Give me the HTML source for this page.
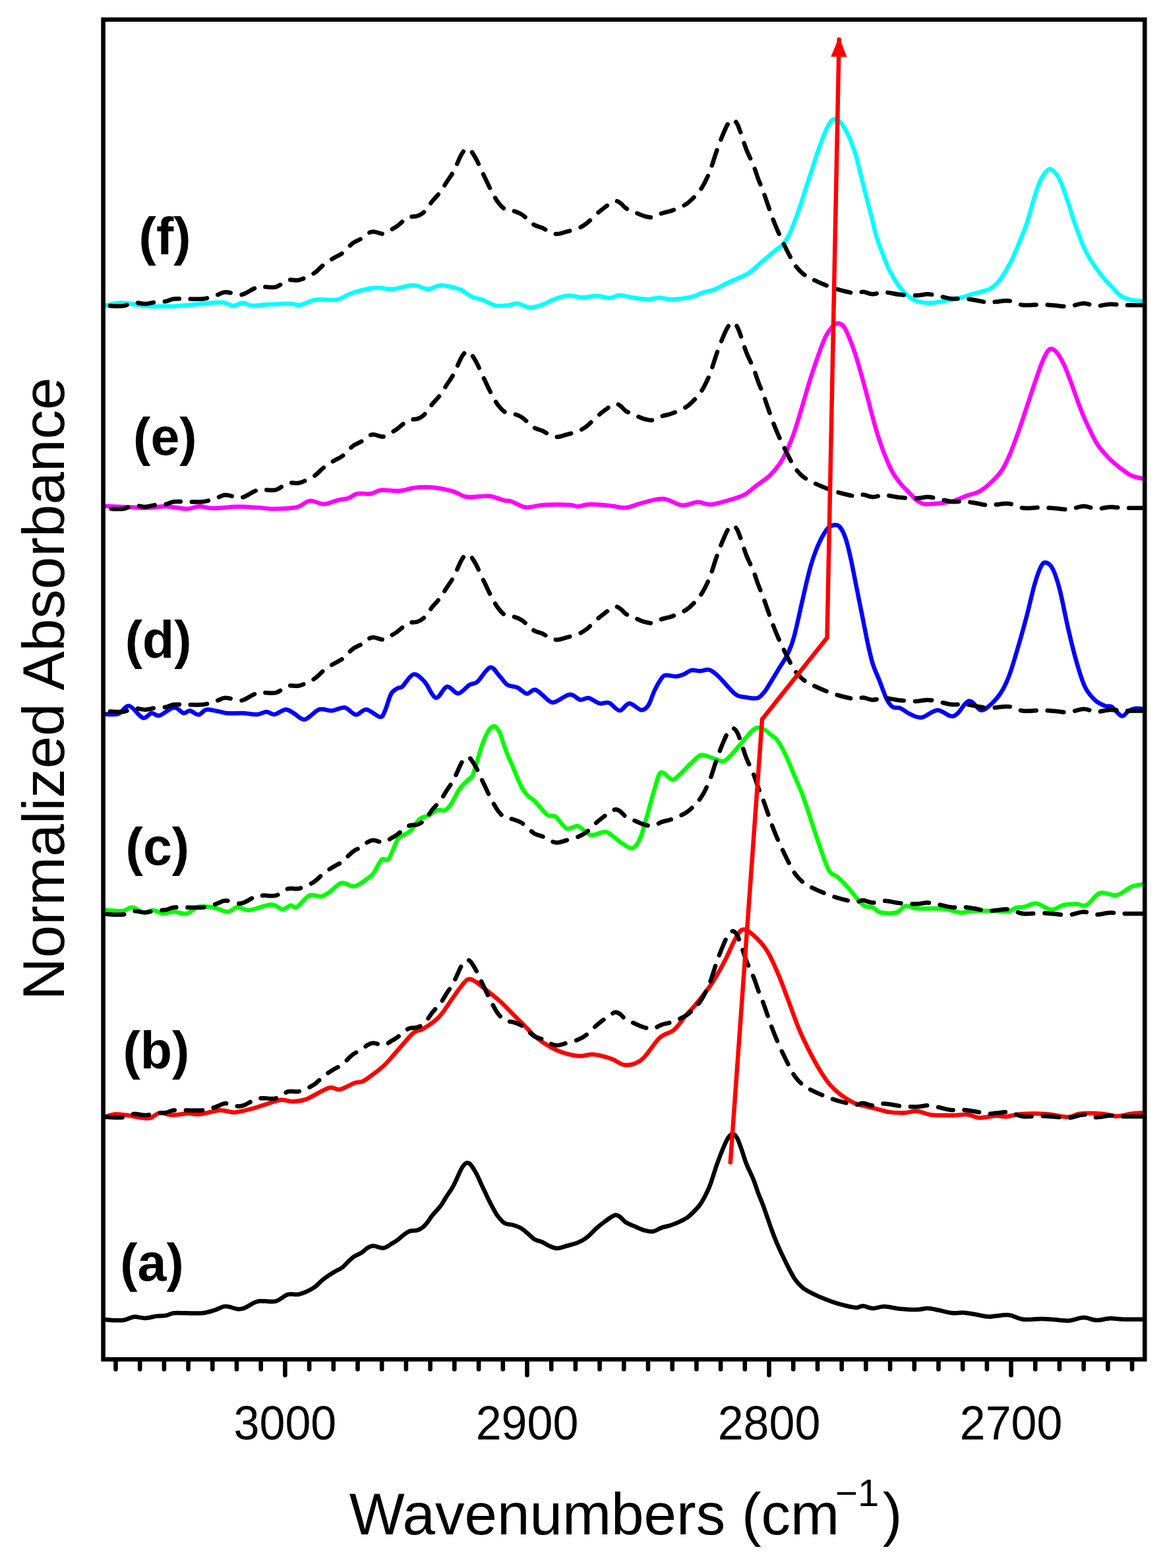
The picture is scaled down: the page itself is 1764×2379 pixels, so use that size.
<!DOCTYPE html>
<html><head><meta charset="utf-8"><title>Normalized Absorbance vs Wavenumbers</title>
<style>html,body{margin:0;padding:0;background:#fff;}svg{display:block;}text{font-family:"Liberation Sans",Arial,sans-serif;fill:#000;}</style>
</head><body>
<svg xmlns="http://www.w3.org/2000/svg" width="1764" height="2379" viewBox="0 0 1764 2379">
<defs><path id="cad" d="M157 2002C159.9 2002.2 168.9 2003.1 174.2 2003.2C179.5 2003.3 183.8 2003.6 188.7 2002.7C193.5 2001.8 198.1 1998.4 203.3 1997.9C208.6 1997.4 214.5 2000.1 220.2 1999.9C225.8 1999.7 231.9 1997.6 237.2 1996.9C242.4 1996.2 247.3 1996.7 251.7 1995.9C256.1 1995.1 258.6 1992.9 263.8 1992.3C269.1 1991.7 275.9 1992.3 283.2 1992.3C290.5 1992.3 300.3 1993 307.4 1992.3C314.4 1991.5 320.2 1989.4 325.5 1987.8C330.8 1986.2 335.3 1983.3 338.9 1982.4C342.5 1981.5 343.7 1982 347.3 1982.6C350.9 1983.2 356.8 1985.8 360.6 1986.2C364.4 1986.6 365.7 1986.5 370.3 1984.7C374.9 1982.9 383.4 1977.1 388.4 1975.3C393.4 1973.5 395.4 1974.3 400.5 1974.1C405.6 1973.9 412.6 1975.8 418.7 1974.1C424.8 1972.4 431 1965.7 436.9 1963.9C442.8 1962.2 447.4 1965.3 453.8 1963.6C460.2 1961.9 469.6 1957.6 475.6 1953.9C481.7 1950.2 485.3 1945 490.1 1941.2C494.9 1937.4 499.8 1934.2 504.6 1931.2C509.5 1928.2 515.2 1926 519.2 1923C523.2 1920 525.9 1916.1 528.9 1913.3C531.9 1910.5 534.1 1908.3 537.3 1906.2C540.5 1904.1 544.9 1902.9 548.2 1900.8C551.5 1898.7 554.2 1895.2 557.2 1893.5C560.2 1891.8 562.2 1890.3 566.3 1890.3C570.4 1890.3 577.2 1894 581.8 1893.5C586.3 1893 590.1 1889.2 593.6 1887.2C597.1 1885.2 599.6 1883.9 602.6 1881.7C605.6 1879.5 608.7 1876.3 611.7 1874C614.7 1871.7 617.3 1869.3 620.8 1868.1C624.3 1866.9 629.1 1867.8 632.6 1866.7C636.1 1865.6 639 1863.9 641.7 1861.7C644.4 1859.5 646.7 1856.5 649 1853.6C651.3 1850.7 653 1847.4 655.3 1844.5C657.6 1841.6 660.2 1839 662.6 1836.3C665 1833.5 667.2 1831.3 669.5 1828C671.8 1824.7 673.8 1820.8 676.5 1816.5C679.2 1812.2 683.3 1806.7 686 1802.1C688.7 1797.5 690.6 1793.2 692.7 1788.7C694.8 1784.2 696.9 1778.9 698.7 1775.4C700.5 1771.9 702 1769.4 703.6 1767.6C705.2 1765.8 706.8 1764.5 708.4 1764.3C710 1764.1 711.7 1764.8 713.3 1766.3C714.9 1767.8 716.3 1770.1 718.1 1773C719.9 1775.9 722.2 1779.9 724.2 1783.9C726.2 1787.9 728.2 1792.9 730.2 1797.2C732.2 1801.5 734.3 1805.7 736.3 1809.9C738.3 1814.1 740.2 1818.5 742.3 1822.6C744.3 1826.7 746.3 1830.5 748.6 1834.5C750.9 1838.5 753 1842.7 755.9 1846.3C758.8 1849.9 762.1 1854 765.7 1856C769.4 1858 773.8 1857.3 777.8 1858.5C781.8 1859.7 786.2 1861.1 790 1863.3C793.8 1865.5 797.4 1869 800.8 1871.8C804.2 1874.6 806.9 1878.1 810.5 1880.2C814.1 1882.3 819 1882.9 822.6 1884.5C826.2 1886.1 828.7 1888.3 832.3 1889.9C835.9 1891.5 839.9 1893.8 844.4 1893.9C848.9 1894 853.5 1892 859 1890.5C864.5 1889 871.9 1887.3 877.1 1885.1C882.3 1882.9 885.8 1880.8 890.4 1877.2C895 1873.6 900.5 1867.2 905 1863.3C909.5 1859.4 913.7 1856.2 917.1 1853.6C920.5 1851 922.7 1849.3 925.5 1847.6C928.3 1845.9 931.4 1843.7 934 1843.6C936.6 1843.5 938.8 1845.2 941.3 1847C943.8 1848.8 945.8 1852.3 949.1 1854.5C952.4 1856.7 956.4 1857.9 960.9 1859.9C965.4 1861.9 971.5 1864.9 976.3 1866.3C981.1 1867.7 985.3 1869.1 989.9 1868.5C994.5 1867.9 999 1864.2 1003.6 1862.6C1008.2 1861 1012.7 1860.5 1017.2 1859C1021.7 1857.5 1026.6 1855.6 1030.8 1853.6C1035 1851.6 1039 1849.8 1042.6 1847.2C1046.2 1844.6 1049.6 1841.1 1052.6 1838.1C1055.6 1835.1 1058.4 1832.2 1060.8 1829C1063.2 1825.8 1065.1 1822.6 1067.1 1819.1C1069.1 1815.6 1070.8 1812.2 1072.6 1808.2C1074.4 1804.2 1075.5 1802.5 1078 1795.4C1080.5 1788.3 1084.6 1774.5 1087.8 1765.5C1091 1756.5 1094.4 1747.8 1097.2 1741.3C1100 1734.8 1102.1 1729.7 1104.5 1726.2C1106.9 1722.7 1109.3 1720.5 1111.5 1720.5C1113.7 1720.5 1115.7 1722.7 1117.8 1726.2C1119.9 1729.7 1121.5 1734.8 1123.9 1741.3C1126.3 1747.8 1128.8 1757.4 1132 1765.5C1135.2 1773.6 1140 1782.7 1142.9 1790C1145.9 1797.3 1147.3 1803 1149.7 1809.4C1152.1 1815.9 1155 1822.2 1157.4 1828.7C1159.8 1835.2 1161.9 1841.6 1164.2 1848.1C1166.5 1854.6 1168.6 1861 1171 1867.5C1173.4 1874 1176 1880.5 1178.7 1886.9C1181.5 1893.4 1184.4 1899.8 1187.5 1906.2C1190.6 1912.7 1194 1919.8 1197.1 1925.6C1200.2 1931.4 1202.5 1936.4 1205.9 1941.1C1209.3 1945.8 1213.2 1950.2 1217.5 1953.7C1221.8 1957.2 1226.3 1959.5 1232 1962.4C1237.7 1965.3 1245 1968.5 1251.4 1971.1C1257.9 1973.7 1264.2 1976 1270.7 1977.9C1277.2 1979.8 1285.3 1981.7 1290.1 1982.7C1294.9 1983.7 1296.5 1984.1 1299.7 1983.9C1302.9 1983.7 1305.5 1981.4 1309.5 1981.6C1313.5 1981.8 1318.1 1985 1323.4 1985.1C1328.7 1985.2 1334.5 1982.2 1341.5 1982.3C1348.5 1982.4 1357.1 1985 1365.2 1985.8C1373.3 1986.6 1383.2 1987.2 1390.2 1987.1C1397.2 1987 1401.3 1985 1406.9 1985.1C1412.5 1985.2 1417.6 1986.6 1423.6 1987.8C1429.6 1989 1436.6 1991.3 1443.1 1992C1449.6 1992.7 1456.1 1991.2 1462.6 1991.7C1469.1 1992.2 1476.1 1993.8 1482.1 1994.8C1488.1 1995.8 1494 1997.3 1498.8 1997.6C1503.6 1997.9 1505.7 1997 1511 1996.6C1516.3 1996.2 1524.1 1994.4 1530.9 1995.3C1537.7 1996.2 1543.7 2000.8 1551.8 2001.7C1559.9 2002.6 1571.5 2000.8 1579.6 2000.9C1587.7 2001 1593.5 2001.8 1600.5 2002.3C1607.5 2002.8 1614.2 2004.2 1621.4 2003.7C1628.6 2003.2 1636.6 1999.1 1643.6 1999C1650.5 1998.9 1656.4 2002.9 1663.1 2003.1C1669.8 2003.3 1677 2000.5 1684 2000.3C1691 2000.1 1696.2 2001.5 1704.9 2001.7C1713.6 2001.9 1730.8 2001.7 1736 2001.7" fill="none" stroke="#000" stroke-width="6.5" stroke-dasharray="25.8 17 24.2 17 22.8 17 25.1 17 20.7 17 21.6 17 23.5 17 20.6 17 18.2 17 17.7 17 18.8 17 19.8 17 19 17 20.1 17 17.5 17 20.7 17 21.1 17 20.4 17 23.2 17 20.3 17 19.1 17 19.6 17 22.1 17 18.1 17 17.2 17 19.2 17 21.4 17 20 17 19.4 17 22 17 24.4 17 25.5 17 17.2 17 25.2 17 25.4 17 22.6 17 23.7 17 21.7 17 18.3 17 19.9 17 21.2 17 23.5 17 24.6 17 25.5 17 23 17 22.8 17 23.2 17 23.7 17 24.9 17 22.6 17 24.6 17 47.9 10000" stroke-linecap="round" stroke-linejoin="round"/></defs>
<rect x="0" y="0" width="1764" height="2379" fill="#fff"/>
<path d="M157 1695.5C159.9 1694.7 168.5 1691.2 174.2 1690.6C179.9 1690 182.7 1690.8 191.2 1691.8C199.7 1692.8 216.5 1697.1 225 1696.6C233.5 1696.1 235.9 1689.4 242 1688.6C248.1 1687.8 254.1 1691.7 261.4 1691.8C268.7 1691.9 278.8 1689.5 285.6 1689.3C292.5 1689.1 294.4 1691.4 302.5 1690.6C310.6 1689.8 325.1 1685 334 1684.5C342.9 1684 347.7 1688.1 355.8 1687.7C363.9 1687.3 374.7 1684 382.4 1682.1C390.1 1680.1 394.5 1678.2 401.8 1676C409.1 1673.8 419.1 1669.6 426 1668.8C432.9 1668 436.5 1671.4 443 1671.2C449.5 1671 455.5 1671 464.8 1667.6C474.1 1664.2 490.2 1653 498.7 1650.6C507.2 1648.2 509.2 1654.2 515.6 1653C522.1 1651.8 531.7 1645.3 537.4 1643.3C543.1 1641.3 545.2 1642.9 549.7 1640.9C554.2 1638.9 558.6 1635.4 564.2 1631.2C569.9 1627 577.1 1621.8 583.6 1615.5C590.1 1609.2 595.7 1601.8 603 1593.7C610.3 1585.6 620.8 1572.5 627.2 1567.1C633.7 1561.6 635.2 1565 641.7 1561C648.2 1557 658.6 1550.4 665.9 1542.9C673.2 1535.4 680 1523.5 685.3 1516.2C690.5 1508.9 693.4 1504.3 697.4 1499.3C701.4 1494.3 705.5 1487.6 709.5 1486C713.5 1484.4 716.8 1486.8 721.6 1489.6C726.4 1492.4 732.5 1498.1 738.5 1502.9C744.5 1507.7 751.4 1512.8 757.9 1518.6C764.4 1524.4 770.8 1531.5 777.3 1538C783.8 1544.5 790.7 1551.4 796.7 1557.4C802.8 1563.5 807.2 1569 813.6 1574.3C820 1579.5 828.5 1585.1 835.4 1588.9C842.3 1592.7 847.5 1595.1 854.8 1597.3C862.1 1599.5 871.7 1601.8 879 1602.2C886.3 1602.6 891.9 1599.6 898.4 1599.8C904.9 1600 912.4 1602.1 917.7 1603.4C923 1604.7 924.7 1605.5 930 1607.6C935.3 1609.7 942.1 1616.1 949.4 1616.1C956.7 1616.1 965.1 1614.5 973.6 1607.6C982.1 1600.7 992.1 1582.4 1000.2 1574.9C1008.3 1567.4 1015.5 1568.2 1022 1562.8C1028.5 1557.3 1033 1549.3 1039 1542.2C1045 1535.1 1051.5 1528.9 1058.3 1520.4C1065.1 1511.9 1073.2 1501.9 1080.1 1491.4C1087 1480.9 1093.5 1469 1099.5 1457.5C1105.5 1446 1111.6 1430.3 1116.4 1422.4C1121.2 1414.5 1123.2 1410 1128.5 1410.3C1133.8 1410.5 1142.1 1418 1148.2 1423.9C1154.3 1429.8 1159.6 1436 1165.2 1445.7C1170.8 1455.4 1176.8 1469.5 1182.1 1482C1187.3 1494.5 1191.8 1507.8 1196.7 1520.7C1201.6 1533.6 1206.4 1547.8 1211.2 1559.5C1216 1571.2 1220.5 1580.5 1225.7 1591C1231 1601.5 1237.1 1613.1 1242.7 1622.4C1248.3 1631.7 1253.5 1639.8 1259.6 1646.7C1265.6 1653.6 1272.5 1659 1279 1663.6C1285.5 1668.2 1290.3 1671.5 1298.4 1674.5C1306.5 1677.5 1319.1 1679.7 1327.4 1681.8C1335.7 1683.9 1340.8 1686 1348 1687.1C1355.2 1688.2 1363.7 1688.6 1370.9 1688.4C1378.1 1688.2 1384 1685.4 1391.2 1685.9C1398.4 1686.5 1404.8 1690.7 1414.1 1691.7C1423.4 1692.8 1438.2 1692.3 1447.1 1692.2C1456 1692.1 1461.1 1690.3 1467.5 1690.9C1473.9 1691.5 1478.1 1695.7 1485.3 1696C1492.5 1696.3 1503.9 1693 1510.7 1692.7C1517.5 1692.4 1519.7 1694.6 1526 1694.2C1532.3 1693.8 1538.6 1690.9 1548.8 1690.2C1559 1689.5 1575.1 1689.4 1587 1690.2C1598.9 1691 1611.5 1694.9 1620 1694.8C1628.5 1694.7 1629.3 1690.5 1637.8 1689.7C1646.3 1688.9 1661.6 1689.1 1670.9 1689.7C1680.2 1690.3 1686.2 1693.5 1693.8 1693.5C1701.4 1693.5 1709.6 1690.5 1716.6 1689.7C1723.6 1688.9 1732.8 1688.6 1736 1688.4" fill="none" stroke="#ff0000" stroke-width="6.5" stroke-linejoin="round" stroke-linecap="butt"/>
<path d="M157 1380.4C159.1 1380.6 164.5 1381.1 169.4 1381.4C174.3 1381.7 181.1 1382.9 186.3 1382.1C191.5 1381.3 195.6 1376.4 200.8 1376.8C206.1 1377.2 212.6 1383.8 217.8 1384.5C223.1 1385.2 227.5 1380.7 232.3 1380.9C237.2 1381.1 241.7 1385.3 246.9 1385.7C252.2 1386.1 257.8 1383.2 263.8 1383.3C269.9 1383.4 277.1 1387.4 283.2 1386.2C289.2 1385 294.1 1377.7 300.1 1376C306.2 1374.3 314.6 1375.6 319.5 1376C324.4 1376.4 324.8 1377.3 329.2 1378.5C333.6 1379.7 340.9 1383.7 346.1 1383.3C351.4 1382.9 355.4 1376.4 360.7 1376C365.9 1375.6 369.1 1381.5 377.6 1380.9C386.1 1380.3 403 1372.6 411.5 1372.4C420 1372.2 423.6 1379.5 428.5 1379.7C433.4 1379.9 437 1374.2 440.6 1373.6C444.2 1373 445.4 1378.5 450.2 1376C455 1373.5 463.5 1361.2 469.6 1358.6C475.7 1356 481.8 1361 486.6 1360.3C491.5 1359.6 493.5 1357.6 498.7 1354.2C503.9 1350.8 511.6 1341.3 518 1339.7C524.5 1338.1 530.9 1345.7 537.4 1344.6C543.9 1343.5 552.1 1336.6 557 1333.3C561.9 1330 563 1329.7 566.6 1324.9C570.2 1320.1 574.9 1307.9 578.7 1304.3C582.5 1300.7 585.6 1308.1 589.6 1303.1C593.6 1298 599.2 1280 603 1274C606.8 1268 609.4 1269 612.6 1266.8C615.8 1264.6 618.2 1264.8 622.3 1260.7C626.3 1256.7 632.4 1246.3 636.9 1242.5C641.4 1238.7 644.6 1239.9 649 1237.7C653.4 1235.5 659.1 1230.6 663.5 1229.2C667.9 1227.8 672 1231 675.6 1229.2C679.2 1227.4 681.7 1223.8 685.3 1218.3C688.9 1212.8 692.6 1203 697.4 1196.5C702.2 1190 711.1 1182.7 714.3 1179.6C717.4 1176.5 715.2 1180.7 716.3 1178.1C717.4 1175.5 719.4 1169 721 1164C722.6 1159 724.1 1153.5 725.7 1148.2C727.3 1143 728.6 1137.7 730.4 1132.5C732.2 1127.3 734.6 1121.3 736.7 1116.8C738.8 1112.3 741 1108.2 743 1105.7C745 1103.2 746.7 1101.9 748.5 1101.8C750.3 1101.7 752.3 1103 754 1105C755.7 1107 757.2 1109.8 758.8 1113.6C760.4 1117.4 761.7 1122.5 763.5 1127.8C765.3 1133 767.7 1139.9 769.8 1145.1C771.9 1150.3 773.8 1153.7 776.1 1159.2C778.5 1164.7 781.3 1172.1 783.9 1178.1C786.5 1184.1 789.2 1190.7 791.8 1195.4C794.4 1200.1 796.5 1203.1 799.7 1206.5C802.9 1209.9 806.1 1210.9 811.2 1215.9C816.4 1220.9 825.4 1232.7 830.6 1236.5C835.9 1240.3 837.9 1235.5 842.7 1238.9C847.5 1242.3 854 1254.7 859.6 1257.1C865.2 1259.5 870.6 1251.8 876.6 1253.4C882.6 1255 889 1265.4 895.9 1266.8C902.8 1268.2 912 1261.6 917.7 1261.9C923.4 1262.2 925.9 1266.1 930 1268.9C934.1 1271.7 937.2 1275.5 942.1 1278.5C947 1281.5 954.2 1288.2 959.1 1287C964 1285.8 967.6 1279.2 971.2 1271.3C974.8 1263.4 977.2 1252.3 980.8 1239.8C984.4 1227.3 989.4 1207.5 993 1196.2C996.6 1184.9 998.2 1174.2 1002.6 1172C1007 1169.8 1014.8 1182.5 1019.6 1182.9C1024.5 1183.3 1027.3 1178.2 1031.7 1174.4C1036.1 1170.6 1041.4 1164.5 1046.2 1159.9C1051 1155.3 1056.8 1148.8 1060.8 1146.6C1064.8 1144.4 1066.4 1145.8 1070.4 1146.6C1074.4 1147.4 1080.5 1150 1085 1151.4C1089.5 1152.8 1093.1 1156.1 1097.1 1155.1C1101.1 1154.1 1104.8 1149.9 1109.2 1145.4C1113.6 1141 1118.9 1134.1 1123.7 1128.4C1128.5 1122.8 1134.2 1115.5 1138.2 1111.5C1142.2 1107.5 1144.5 1105 1147.9 1104.2C1151.3 1103.4 1155.2 1104.8 1158.8 1106.6C1162.4 1108.4 1166.3 1112.3 1169.7 1115.1C1173.1 1117.9 1175.8 1118.5 1179.4 1123.6C1183 1128.6 1187.1 1136.1 1191.5 1145.4C1195.9 1154.7 1201.6 1168.8 1206 1179.3C1210.4 1189.8 1214.1 1197.4 1218.1 1208.3C1222.1 1219.2 1226.2 1232.5 1230.2 1244.6C1234.2 1256.7 1237.8 1268.3 1242.3 1281C1246.8 1293.7 1252.8 1312.6 1257.4 1320.8C1262 1329 1265.3 1326 1270 1330.2C1274.7 1334.4 1280.5 1340.2 1285.7 1346C1290.9 1351.8 1297.2 1360.2 1301.4 1364.9C1305.6 1369.6 1307.2 1372.3 1310.9 1374.3C1314.6 1376.3 1319.3 1375 1323.5 1376.7C1327.7 1378.4 1330.1 1383.2 1336.1 1384.5C1342.1 1385.8 1353.5 1386.2 1359.7 1384.5C1365.9 1382.8 1368.2 1375.6 1373.4 1374.6C1378.7 1373.6 1383.2 1377.8 1391.2 1378.4C1399.2 1379 1414.1 1378.2 1421.7 1378.4C1429.3 1378.6 1431.1 1378.6 1437 1379.7C1442.9 1380.8 1451.4 1384.4 1457.3 1384.8C1463.2 1385.2 1465.8 1382.7 1472.6 1382.2C1479.4 1381.7 1488.7 1381.6 1498 1381.7C1507.3 1381.8 1521.3 1383.5 1528.5 1382.7C1535.7 1381.9 1537 1378.2 1541.2 1377.1C1545.4 1376 1548.8 1377 1553.9 1375.9C1559 1374.9 1564.9 1370.1 1571.7 1370.8C1578.5 1371.5 1587.8 1379.8 1594.6 1380.2C1601.4 1380.6 1606.1 1374.8 1612.4 1373.3C1618.8 1371.8 1626.8 1371.5 1632.7 1371.5C1638.6 1371.5 1642.1 1376.1 1648 1373.3C1653.9 1370.5 1660.7 1357.3 1668.3 1354.8C1675.9 1352.3 1685.8 1359.7 1693.8 1358.1C1701.8 1356.5 1709.6 1348.1 1716.6 1345.3C1723.6 1342.5 1732.8 1341.7 1736 1341" fill="none" stroke="#00ff00" stroke-width="6.5" stroke-linejoin="round" stroke-linecap="butt"/>
<path d="M157 1083.2C160.7 1083.2 172.5 1085.2 179 1083.2C185.5 1081.2 189.7 1070.1 196 1071.1C202.3 1072.1 210.9 1087.4 216.6 1089.2C222.2 1091 225.7 1082.6 229.9 1082C234.1 1081.4 236.3 1087 242 1085.6C247.7 1084.2 257.8 1074.1 263.8 1073.5C269.9 1072.9 274.3 1081.2 278.3 1082C282.3 1082.8 284.2 1077.9 288 1078.3C291.8 1078.7 296.9 1084.7 301.3 1084.4C305.7 1084.1 307.5 1076.8 314.6 1076.4C321.7 1076 334.8 1081.1 343.7 1082C352.6 1082.9 360.2 1081.7 367.9 1082C375.6 1082.3 383.6 1084.2 389.7 1083.9C395.8 1083.6 399.8 1080 404.2 1080C408.6 1080 411.4 1084.5 416.3 1083.9C421.2 1083.3 428.5 1076.7 433.3 1076.4C438.1 1076.1 440.6 1079.5 445.4 1082C450.2 1084.5 455.9 1092.5 462.3 1091.6C468.8 1090.7 477.2 1078.6 484.1 1076.4C491 1074.2 497 1078.8 503.5 1078.3C510 1077.8 516.9 1072.5 522.9 1073.5C528.9 1074.5 534.3 1083.9 539.8 1084.4C545.3 1084.9 549.6 1075.9 555.7 1076.4C561.8 1077 571.6 1087.2 576.3 1087.7C580.9 1088.2 580.8 1085.2 583.6 1079.3C586.4 1073.4 590.1 1058.4 593.3 1052.6C596.5 1046.8 600.2 1046 603 1044.2C605.8 1042.4 606.2 1045.2 610.2 1041.7C614.2 1038.2 621.6 1024.3 627.2 1023.1C632.9 1021.9 638.5 1028.6 644.1 1034.5C649.8 1040.4 655.5 1057.5 661.1 1058.7C666.8 1059.9 672.4 1042.8 678 1041.7C683.6 1040.6 689.4 1052.6 695 1052.2C700.6 1051.8 707.1 1042.2 711.9 1039.3C716.7 1036.3 718.8 1038.9 724 1034.5C729.2 1030.1 737.8 1014.1 743.4 1012.7C749 1011.3 753.5 1021.6 757.9 1026C762.3 1030.4 765.5 1036.5 770 1039.3C774.5 1042.1 779.8 1040.8 784.6 1043C789.5 1045.2 794.5 1052 799.1 1052.6C803.7 1053.2 806.8 1044.8 812.4 1046.6C818 1048.4 828 1060.5 833 1063.5C838 1066.5 837.5 1066.3 842.7 1064.7C848 1063.1 858.3 1054.3 864.5 1053.8C870.7 1053.3 875.3 1060.8 880 1061.7C884.7 1062.6 887.9 1058.1 892.7 1059C897.6 1059.9 904 1066 909.1 1067.2C914.2 1068.4 918.5 1064.5 923.6 1066.3C928.7 1068.1 934.8 1077.9 939.9 1078.1C945 1078.2 949 1067.3 954.5 1067.2C960 1067.1 967.8 1076.8 972.6 1077.2C977.4 1077.7 980.2 1074.8 983.5 1069.9C986.8 1065.1 989.3 1054.9 992.6 1048.1C995.9 1041.3 1000.5 1032.9 1003.5 1029C1006.5 1025.1 1007.1 1025 1010.7 1024.5C1014.3 1024 1021 1026.5 1025.3 1026.3C1029.5 1026.1 1032.3 1025.2 1036.2 1023.6C1040.1 1022 1044.7 1017.8 1048.9 1016.9C1053.1 1016 1057.1 1018.2 1061.6 1018.1C1066.1 1018 1071.6 1015.1 1076.1 1016.3C1080.6 1017.5 1084.6 1021.6 1088.8 1025.4C1093 1029.2 1098 1035.2 1101.5 1039C1105 1042.8 1107.7 1045.8 1110 1048.2C1112.3 1050.6 1113.6 1051.9 1115.4 1053.2C1117.2 1054.5 1119.1 1055.5 1120.9 1056.2C1122.7 1056.9 1124.2 1056.9 1126.3 1057.2C1128.4 1057.5 1130.9 1057.9 1133.6 1058.3C1136.3 1058.7 1140.1 1059.3 1142.7 1059.4C1145.3 1059.5 1147.4 1059.6 1149.2 1059.1C1151 1058.6 1152 1057.7 1153.6 1056.2C1155.2 1054.7 1157.7 1051.8 1159 1050.3C1160.3 1048.8 1159.4 1050.4 1161.4 1047.3C1163.4 1044.2 1167.5 1037.6 1171 1031.8C1174.5 1026 1179.2 1018.2 1182.7 1012.4C1186.2 1006.6 1189.4 1002.5 1192.3 997C1195.2 991.5 1197.8 985.6 1200.1 979.5C1202.4 973.4 1204 967.5 1205.9 960.1C1207.8 952.7 1209.1 946.6 1211.7 935C1214.3 923.4 1218.8 902.9 1221.8 890.2C1224.8 877.5 1227.1 867.9 1229.7 858.7C1232.3 849.5 1234.7 842.5 1237.6 835.1C1240.5 827.8 1243.8 820.4 1247 814.6C1250.2 808.8 1253.3 803.5 1256.5 800.5C1259.7 797.5 1263.3 796.9 1265.9 796.5C1268.5 796.1 1270.1 796.4 1272.2 798.1C1274.3 799.8 1276.4 802.5 1278.5 806.8C1280.6 811.1 1282.7 816.8 1284.8 824.1C1286.9 831.4 1289 841.1 1291.1 850.8C1293.2 860.5 1295.3 871.8 1297.4 882.3C1299.5 892.8 1301.6 903.3 1303.7 913.8C1305.8 924.3 1307.9 934.8 1310 945.3C1312.1 955.8 1314 966.2 1316.3 976.7C1318.6 987.2 1321.2 999 1324.1 1008.2C1327 1017.4 1330.2 1023.1 1333.6 1031.8C1337 1040.4 1341.2 1053.3 1344.6 1060.1C1348 1066.9 1350.6 1070.3 1354 1072.7C1357.4 1075.1 1360.6 1072.5 1365.1 1074.3C1369.6 1076.1 1375.3 1081.3 1380.8 1083.7C1386.3 1086.1 1391.3 1089.5 1398.1 1088.5C1404.9 1087.5 1414.4 1077.8 1421.7 1077.5C1429 1077.2 1436.9 1085.6 1442 1086.4C1447.1 1087.2 1447.5 1086.4 1452.2 1082.6C1456.9 1078.8 1464.1 1064.3 1470 1063.5C1475.9 1062.7 1482.3 1076.7 1487.8 1077.5C1493.3 1078.3 1498 1073 1503.1 1068.6C1508.2 1064.1 1513.6 1058.2 1518.3 1050.8C1523 1043.4 1526.8 1035.3 1531 1024.1C1535.2 1012.9 1539.5 997.8 1543.7 983.4C1548 969 1552.2 953.7 1556.5 937.6C1560.8 921.5 1565.4 899.9 1569.2 886.8C1573 873.7 1576.3 864.3 1579.3 858.8C1582.3 853.3 1584 852.9 1587 853.7C1590 854.6 1593.7 857.1 1597.1 863.9C1600.5 870.7 1603.5 879.6 1607.3 894.4C1611.1 909.2 1615.8 934.7 1620 952.9C1624.2 971.1 1628.5 988.9 1632.7 1003.7C1637 1018.5 1640.8 1032.2 1645.5 1041.9C1650.2 1051.7 1655.6 1057.3 1660.7 1062.2C1665.8 1067.1 1671.8 1069.4 1676 1071.1C1680.2 1072.8 1681.9 1069.9 1686.1 1072.4C1690.3 1075 1697.2 1085.3 1701.4 1086.4C1705.7 1087.5 1708.2 1080.7 1711.6 1078.8C1715 1076.9 1717.6 1075.3 1721.7 1074.9C1725.8 1074.5 1733.6 1076 1736 1076.2" fill="none" stroke="#0000ff" stroke-width="6.5" stroke-linejoin="round" stroke-linecap="butt"/>
<path d="M157 767.8C163.9 768.1 187.5 769 198.4 769.5C209.3 770 213.7 770.9 222.6 770.7C231.5 770.5 241.6 768.1 251.7 768.3C261.8 768.5 274.7 772 283.2 772C291.7 772 295.6 768.4 302.5 768.3C309.4 768.2 314.6 771.1 324.3 771.2C334 771.3 349.4 768.9 360.7 768.8C372 768.6 382.8 769.8 392.1 770.3C401.4 770.8 406.6 772.1 416.3 772C426 771.9 441.3 771.5 450.2 769.5C459.1 767.5 462.7 760.7 469.6 759.9C476.5 759.1 484.1 764.9 491.4 764.7C498.7 764.5 507.2 760 513.2 758.6C519.2 757.2 522.9 757.8 527.7 756.2C532.5 754.6 536.5 750.2 542.2 749C547.9 747.8 555.7 750.1 561.8 749.2C567.9 748.3 571.4 744.3 578.7 743.6C586 742.9 596.9 745.4 605.4 744.8C613.9 744.2 621.1 740.9 629.6 740C638.1 739.1 646.9 738.7 656.2 739.5C665.5 740.3 676.8 742.4 685.3 744.8C693.8 747.2 700.2 752.4 707.1 753.8C714 755.2 720.4 753.5 726.4 753.3C732.4 753.1 736.9 751.8 743.4 752.8C749.9 753.8 760 758 765.2 759.3C770.5 760.6 770.1 758.9 774.9 760.5C779.7 762.1 789 767.6 794.2 769C799.4 770.4 801 769.5 806.3 769C811.5 768.5 816 766.4 825.7 765.9C835.4 765.4 856 765.5 864.5 765.9C873 766.3 872.2 768.6 876.6 768.5C881 768.4 885.1 765.8 891.1 765.4C897.1 765 906.4 765.5 912.9 765.9C919.4 766.3 923.9 767.1 930 767.8C936.1 768.5 941.3 771.2 949.4 770.2C957.5 769.2 968.7 764 978.4 761.8C988.1 759.6 998.2 756.1 1007.5 756.9C1016.8 757.7 1025.6 765.8 1034.1 766.6C1042.6 767.4 1051 762 1058.3 761.8C1065.6 761.6 1070 765.8 1077.7 765.4C1085.4 765 1095.8 761.7 1104.3 759.3C1112.8 756.9 1121.2 754.7 1128.5 750.9C1135.8 747.1 1141.4 741.1 1147.9 736.3C1154.4 731.4 1161.7 727 1167.3 721.8C1172.9 716.6 1177.8 710.5 1181.8 704.9C1185.8 699.2 1187.9 695.6 1191.5 687.9C1195.1 680.2 1199.6 670.2 1203.6 658.9C1207.6 647.6 1211.7 633.4 1215.7 620.1C1219.7 606.8 1223.8 591.9 1227.8 579C1231.8 566.1 1235.9 553.9 1239.9 542.6C1243.9 531.3 1248.4 518.9 1252 511.2C1255.6 503.5 1258.9 500 1261.7 496.6C1264.5 493.2 1266.1 491 1269 490.6C1271.9 490.2 1275.9 490.9 1279.1 494.5C1282.2 498.1 1285 505.2 1287.9 512C1290.8 518.8 1293.7 526.5 1296.6 535.2C1299.5 543.9 1302.4 554.1 1305.3 564.3C1308.2 574.5 1311.1 585.3 1314 596.2C1316.9 607.1 1319.8 618.9 1322.7 629.6C1325.6 640.3 1328.2 650.3 1331.4 660.2C1334.6 670.1 1338 680 1341.6 689.2C1345.2 698.4 1349.1 707.9 1353.2 715.4C1357.3 722.9 1361.8 728.8 1366.3 734.3C1370.8 739.8 1375.9 744.2 1380 748.4C1384.1 752.6 1387.3 756.6 1390.9 759.3C1394.5 762 1396.3 764.1 1401.8 764.8C1407.2 765.5 1416.3 764.4 1423.6 763.7C1430.9 763 1438.1 762.4 1445.4 760.4C1452.7 758.4 1460.7 754.1 1467.2 751.7C1473.7 749.3 1478.8 749.3 1484.6 746.2C1490.4 743.1 1496.2 738.6 1502 733.2C1507.8 727.8 1514.4 721.2 1519.5 713.6C1524.6 706 1528.2 697.6 1532.5 687.4C1536.8 677.2 1541.2 664.9 1545.6 652.5C1550 640.1 1554.7 625.3 1558.7 613.3C1562.7 601.3 1566 591.1 1569.6 580.6C1573.2 570.1 1577.2 558.1 1580.5 550.1C1583.8 542.1 1586.7 536.2 1589.2 532.7C1591.7 529.2 1593.2 528.7 1595.7 529.4C1598.2 530.1 1601.2 532.5 1604.5 537C1607.8 541.5 1611.7 548.7 1615.3 556.7C1618.9 564.7 1622.6 575.2 1626.2 585C1629.8 594.8 1633.5 606.1 1637.1 615.5C1640.7 624.9 1643.6 632.1 1648 641.6C1652.4 651.1 1657.8 663.5 1663.3 672.2C1668.8 680.9 1674.9 687.7 1680.7 693.9C1686.5 700.1 1692.3 704.7 1698.1 709.2C1703.9 713.8 1709.3 718.3 1715.6 721.2C1721.9 724.1 1732.6 725.9 1736 726.8" fill="none" stroke="#ff00ff" stroke-width="6.5" stroke-linejoin="round" stroke-linecap="butt"/>
<path d="M157 464.4C161.5 463.6 173 459.5 183.9 459.5C194.8 459.5 208.9 463.6 222.6 464.4C236.3 465.2 254.1 464.8 266.2 464.4C278.3 464 283.6 462.9 295.3 462C307 461.1 326.7 458.5 336.4 458.8C346.1 459.1 348.1 463.8 353.4 463.9C358.6 464 363.1 459.5 367.9 459.5C372.7 459.5 375.9 463.3 382.4 463.7C388.9 464.1 397 462.5 406.7 462C416.4 461.5 432.5 460.7 440.6 460.8C448.7 460.9 448.7 463.7 455.1 462.7C461.6 461.7 470 456 479.3 454.7C488.6 453.4 501.9 456.3 510.8 454.7C519.7 453.1 524.1 447.9 532.6 445C541.1 442.1 554.5 438.9 561.8 437.5C569.1 436.1 570.6 436.6 576.3 436.8C581.9 437 587.2 439.4 595.7 438.7C604.2 438 618.3 432.7 627.2 432.7C636.1 432.7 642.1 438.7 649 438.7C655.9 438.7 661.4 433 668.3 432.7C675.1 432.4 684.9 435.6 690.1 436.8C695.4 438 695.3 437.7 699.8 440C704.2 442.3 711.5 448.4 716.8 450.8C722 453.2 725.6 452.4 731.3 454.5C736.9 456.6 744.2 461.9 750.7 463.4C757.2 464.9 764.4 463.9 770 463.4C775.6 462.9 779 460 784.6 460.5C790.2 461 797.9 466.2 803.9 466.6C809.9 467 814.4 465.1 820.9 462.9C827.4 460.7 835.9 455.7 842.7 453.3C849.6 450.9 855.1 448.7 862 448.4C868.9 448.1 876.5 451.2 883.8 451.3C891.1 451.4 898.7 448.8 905.6 448.9C912.5 449 919.3 452.2 925 452.1C930.7 452 933.6 448.2 939.7 448.1C945.8 448.1 954.2 450.8 961.5 451.8C968.8 452.8 976.8 454.2 983.3 454.2C989.8 454.2 994.2 451.8 1000.2 451.8C1006.2 451.8 1011.5 454.4 1019.6 454.2C1027.7 454 1040.5 452.4 1048.6 450.6C1056.7 448.8 1062.3 445.1 1068 443.3C1073.7 441.5 1076.5 442.1 1082.5 439.7C1088.5 437.3 1095.4 433.1 1104.3 428.8C1113.2 424.6 1127.7 419.1 1135.8 414.2C1143.9 409.3 1147.1 404.5 1152.8 399.7C1158.5 394.9 1165.2 389 1169.7 385.2C1174.2 381.4 1177 379.4 1180 377C1183 374.6 1185 374 1187.8 370.5C1190.6 367 1193.9 362.3 1196.9 356.2C1199.9 350.1 1203.2 341.5 1206 334.1C1208.8 326.7 1211.3 319.7 1213.9 311.9C1216.5 304.1 1219.1 295.2 1221.7 287.2C1224.3 279.2 1226.9 271.8 1229.5 263.8C1232.1 255.8 1234.7 246.8 1237.3 239C1239.9 231.2 1242.5 223.8 1245.1 216.9C1247.7 210 1250.4 202.7 1252.9 197.3C1255.4 191.9 1257.9 187.3 1260 184.5C1262.1 181.7 1263.7 181 1265.5 180.6C1267.3 180.2 1269 180.6 1271 182C1273 183.4 1275.1 185.8 1277.5 189.2C1279.9 192.6 1282.9 197.4 1285.4 202.5C1287.9 207.6 1290.4 213.7 1292.6 219.5C1294.8 225.3 1296.7 230.5 1298.7 237.6C1300.7 244.7 1302.7 253.7 1304.7 261.9C1306.8 270.1 1308.9 278.7 1311 287C1313.1 295.3 1315.2 303.5 1317.3 311.5C1319.4 319.5 1321.8 328.7 1323.4 335C1325 341.3 1325.4 344.7 1326.7 349.5C1328 354.3 1329 358.2 1331 364C1333 369.8 1336 377.9 1338.4 384.2C1340.8 390.5 1342.8 396.2 1345.2 401.7C1347.6 407.2 1350 412 1352.9 417.2C1355.8 422.4 1359 427.9 1362.6 432.7C1366.1 437.5 1370.3 442.5 1374.2 446.2C1378.1 449.9 1381.2 452.7 1385.9 454.9C1390.6 457.1 1397.1 458.6 1402.3 459.3C1407.5 460 1411.2 459.9 1416.9 459.3C1422.6 458.7 1429.8 457.1 1436.2 455.9C1442.7 454.7 1449.1 453.6 1455.6 452C1462.1 450.4 1467.6 448.4 1475 446.2C1482.4 444 1493.7 441.9 1500 439C1506.3 436.1 1508.7 433.7 1513.1 428.9C1517.5 424.1 1522.6 415.8 1526.2 410C1529.8 404.2 1532 400.1 1534.9 394C1537.8 387.9 1540.9 380 1543.6 373.7C1546.3 367.4 1548.5 362.4 1550.9 356.2C1553.3 350 1556 342.8 1558.1 336.4C1560.2 330 1561.7 324.1 1563.5 318C1565.3 311.9 1567.1 305.6 1568.8 300C1570.5 294.4 1572.1 289.2 1573.8 284.5C1575.5 279.8 1577.1 275.7 1579 272C1580.9 268.3 1582.8 265 1585 262.4C1587.2 259.8 1590 256.6 1592.3 256.3C1594.6 256 1596.8 258.4 1599 260.5C1601.2 262.6 1603.4 265.2 1605.5 269C1607.6 272.8 1609.7 278.2 1611.6 283C1613.5 287.8 1615.2 292.8 1617 298C1618.8 303.2 1620.2 307.6 1622.3 314C1624.3 320.4 1627.1 329.9 1629.3 336.5C1631.5 343.1 1633.6 348.4 1635.5 353.5C1637.4 358.6 1639.1 363.3 1640.7 367.3C1642.3 371.3 1643.4 374.2 1644.9 377.5C1646.5 380.8 1648.5 384 1650 386.8C1651.5 389.6 1652.4 391.4 1654.2 394.4C1656 397.4 1658.7 401.4 1661 404.6C1663.3 407.9 1665.7 411.1 1667.8 413.9C1669.9 416.7 1671.6 418.9 1673.7 421.5C1675.8 424.1 1678.2 426.8 1680.5 429.2C1682.8 431.6 1685.2 433.6 1687.3 435.9C1689.4 438.1 1691.1 440.6 1693.2 442.7C1695.3 444.8 1697.9 447.1 1700 448.6C1702.1 450.2 1703.8 451.1 1705.9 452C1708 452.9 1710.6 453.6 1712.7 454.2C1714.8 454.8 1716.2 455 1718.6 455.4C1721 455.8 1724 455.9 1727.1 456.3C1730.2 456.7 1735.3 457.6 1737 457.8" fill="none" stroke="#00ffff" stroke-width="6.5" stroke-linejoin="round" stroke-linecap="butt"/>
<path id="ca" d="M157 2002C159.9 2002.2 168.9 2003.1 174.2 2003.2C179.5 2003.3 183.8 2003.6 188.7 2002.7C193.5 2001.8 198.1 1998.4 203.3 1997.9C208.6 1997.4 214.5 2000.1 220.2 1999.9C225.8 1999.7 231.9 1997.6 237.2 1996.9C242.4 1996.2 247.3 1996.7 251.7 1995.9C256.1 1995.1 258.6 1992.9 263.8 1992.3C269.1 1991.7 275.9 1992.3 283.2 1992.3C290.5 1992.3 300.3 1993 307.4 1992.3C314.4 1991.5 320.2 1989.4 325.5 1987.8C330.8 1986.2 335.3 1983.3 338.9 1982.4C342.5 1981.5 343.7 1982 347.3 1982.6C350.9 1983.2 356.8 1985.8 360.6 1986.2C364.4 1986.6 365.7 1986.5 370.3 1984.7C374.9 1982.9 383.4 1977.1 388.4 1975.3C393.4 1973.5 395.4 1974.3 400.5 1974.1C405.6 1973.9 412.6 1975.8 418.7 1974.1C424.8 1972.4 431 1965.7 436.9 1963.9C442.8 1962.2 447.4 1965.3 453.8 1963.6C460.2 1961.9 469.6 1957.6 475.6 1953.9C481.7 1950.2 485.3 1945 490.1 1941.2C494.9 1937.4 499.8 1934.2 504.6 1931.2C509.5 1928.2 515.2 1926 519.2 1923C523.2 1920 525.9 1916.1 528.9 1913.3C531.9 1910.5 534.1 1908.3 537.3 1906.2C540.5 1904.1 544.9 1902.9 548.2 1900.8C551.5 1898.7 554.2 1895.2 557.2 1893.5C560.2 1891.8 562.2 1890.3 566.3 1890.3C570.4 1890.3 577.2 1894 581.8 1893.5C586.3 1893 590.1 1889.2 593.6 1887.2C597.1 1885.2 599.6 1883.9 602.6 1881.7C605.6 1879.5 608.7 1876.3 611.7 1874C614.7 1871.7 617.3 1869.3 620.8 1868.1C624.3 1866.9 629.1 1867.8 632.6 1866.7C636.1 1865.6 639 1863.9 641.7 1861.7C644.4 1859.5 646.7 1856.5 649 1853.6C651.3 1850.7 653 1847.4 655.3 1844.5C657.6 1841.6 660.2 1839 662.6 1836.3C665 1833.5 667.2 1831.3 669.5 1828C671.8 1824.7 673.8 1820.8 676.5 1816.5C679.2 1812.2 683.3 1806.7 686 1802.1C688.7 1797.5 690.6 1793.2 692.7 1788.7C694.8 1784.2 696.9 1778.9 698.7 1775.4C700.5 1771.9 702 1769.4 703.6 1767.6C705.2 1765.8 706.8 1764.5 708.4 1764.3C710 1764.1 711.7 1764.8 713.3 1766.3C714.9 1767.8 716.3 1770.1 718.1 1773C719.9 1775.9 722.2 1779.9 724.2 1783.9C726.2 1787.9 728.2 1792.9 730.2 1797.2C732.2 1801.5 734.3 1805.7 736.3 1809.9C738.3 1814.1 740.2 1818.5 742.3 1822.6C744.3 1826.7 746.3 1830.5 748.6 1834.5C750.9 1838.5 753 1842.7 755.9 1846.3C758.8 1849.9 762.1 1854 765.7 1856C769.4 1858 773.8 1857.3 777.8 1858.5C781.8 1859.7 786.2 1861.1 790 1863.3C793.8 1865.5 797.4 1869 800.8 1871.8C804.2 1874.6 806.9 1878.1 810.5 1880.2C814.1 1882.3 819 1882.9 822.6 1884.5C826.2 1886.1 828.7 1888.3 832.3 1889.9C835.9 1891.5 839.9 1893.8 844.4 1893.9C848.9 1894 853.5 1892 859 1890.5C864.5 1889 871.9 1887.3 877.1 1885.1C882.3 1882.9 885.8 1880.8 890.4 1877.2C895 1873.6 900.5 1867.2 905 1863.3C909.5 1859.4 913.7 1856.2 917.1 1853.6C920.5 1851 922.7 1849.3 925.5 1847.6C928.3 1845.9 931.4 1843.7 934 1843.6C936.6 1843.5 938.8 1845.2 941.3 1847C943.8 1848.8 945.8 1852.3 949.1 1854.5C952.4 1856.7 956.4 1857.9 960.9 1859.9C965.4 1861.9 971.5 1864.9 976.3 1866.3C981.1 1867.7 985.3 1869.1 989.9 1868.5C994.5 1867.9 999 1864.2 1003.6 1862.6C1008.2 1861 1012.7 1860.5 1017.2 1859C1021.7 1857.5 1026.6 1855.6 1030.8 1853.6C1035 1851.6 1039 1849.8 1042.6 1847.2C1046.2 1844.6 1049.6 1841.1 1052.6 1838.1C1055.6 1835.1 1058.4 1832.2 1060.8 1829C1063.2 1825.8 1065.1 1822.6 1067.1 1819.1C1069.1 1815.6 1070.8 1812.2 1072.6 1808.2C1074.4 1804.2 1075.5 1802.5 1078 1795.4C1080.5 1788.3 1084.6 1774.5 1087.8 1765.5C1091 1756.5 1094.4 1747.8 1097.2 1741.3C1100 1734.8 1102.1 1729.7 1104.5 1726.2C1106.9 1722.7 1109.3 1720.5 1111.5 1720.5C1113.7 1720.5 1115.7 1722.7 1117.8 1726.2C1119.9 1729.7 1121.5 1734.8 1123.9 1741.3C1126.3 1747.8 1128.8 1757.4 1132 1765.5C1135.2 1773.6 1140 1782.7 1142.9 1790C1145.9 1797.3 1147.3 1803 1149.7 1809.4C1152.1 1815.9 1155 1822.2 1157.4 1828.7C1159.8 1835.2 1161.9 1841.6 1164.2 1848.1C1166.5 1854.6 1168.6 1861 1171 1867.5C1173.4 1874 1176 1880.5 1178.7 1886.9C1181.5 1893.4 1184.4 1899.8 1187.5 1906.2C1190.6 1912.7 1194 1919.8 1197.1 1925.6C1200.2 1931.4 1202.5 1936.4 1205.9 1941.1C1209.3 1945.8 1213.2 1950.2 1217.5 1953.7C1221.8 1957.2 1226.3 1959.5 1232 1962.4C1237.7 1965.3 1245 1968.5 1251.4 1971.1C1257.9 1973.7 1264.2 1976 1270.7 1977.9C1277.2 1979.8 1285.3 1981.7 1290.1 1982.7C1294.9 1983.7 1296.5 1984.1 1299.7 1983.9C1302.9 1983.7 1305.5 1981.4 1309.5 1981.6C1313.5 1981.8 1318.1 1985 1323.4 1985.1C1328.7 1985.2 1334.5 1982.2 1341.5 1982.3C1348.5 1982.4 1357.1 1985 1365.2 1985.8C1373.3 1986.6 1383.2 1987.2 1390.2 1987.1C1397.2 1987 1401.3 1985 1406.9 1985.1C1412.5 1985.2 1417.6 1986.6 1423.6 1987.8C1429.6 1989 1436.6 1991.3 1443.1 1992C1449.6 1992.7 1456.1 1991.2 1462.6 1991.7C1469.1 1992.2 1476.1 1993.8 1482.1 1994.8C1488.1 1995.8 1494 1997.3 1498.8 1997.6C1503.6 1997.9 1505.7 1997 1511 1996.6C1516.3 1996.2 1524.1 1994.4 1530.9 1995.3C1537.7 1996.2 1543.7 2000.8 1551.8 2001.7C1559.9 2002.6 1571.5 2000.8 1579.6 2000.9C1587.7 2001 1593.5 2001.8 1600.5 2002.3C1607.5 2002.8 1614.2 2004.2 1621.4 2003.7C1628.6 2003.2 1636.6 1999.1 1643.6 1999C1650.5 1998.9 1656.4 2002.9 1663.1 2003.1C1669.8 2003.3 1677 2000.5 1684 2000.3C1691 2000.1 1696.2 2001.5 1704.9 2001.7C1713.6 2001.9 1730.8 2001.7 1736 2001.7" fill="none" stroke="#000" stroke-width="6.5" stroke-linejoin="round"/>
<use href="#cad" stroke-dashoffset="-3" transform="translate(0 -307.8)"/>
<use href="#cad" stroke-dashoffset="-5.6" transform="translate(0 -615.5)"/>
<use href="#cad" stroke-dashoffset="-10" transform="translate(0 -923.2)"/>
<use href="#cad" stroke-dashoffset="-12" transform="translate(0 -1231)"/>
<use href="#cad" stroke-dashoffset="-10" transform="translate(0 -1538.8)"/>
<polyline points="1107.8,1763.5 1156,1091.3 1254.5,967.6 1272.7,60" fill="none" stroke="#ff0000" stroke-width="6.5" stroke-linejoin="miter" stroke-linecap="round"/>
<polygon points="1272.8,56 1260.3,86 1284.5,86.5" fill="#ff0000"/>
<rect x="156.6" y="29.7" width="1579.7" height="2032.7" fill="none" stroke="#000" stroke-width="6.6"/>
<path d="M175.5 2065V2077.5M212.2 2065V2077.5M248.9 2065V2077.5M285.6 2065V2077.5M322.3 2065V2077.5M359 2065V2077.5M395.7 2065V2077.5M432.4 2065V2086.5M469.1 2065V2077.5M505.8 2065V2077.5M542.5 2065V2077.5M579.2 2065V2077.5M615.9 2065V2077.5M652.6 2065V2077.5M689.3 2065V2077.5M726.1 2065V2077.5M762.8 2065V2077.5M799.5 2065V2086.5M836.2 2065V2077.5M872.9 2065V2077.5M909.6 2065V2077.5M946.3 2065V2077.5M983 2065V2077.5M1019.7 2065V2077.5M1056.4 2065V2077.5M1093.1 2065V2077.5M1129.8 2065V2077.5M1166.5 2065V2086.5M1203.2 2065V2077.5M1240 2065V2077.5M1276.7 2065V2077.5M1313.4 2065V2077.5M1350.1 2065V2077.5M1386.8 2065V2077.5M1423.5 2065V2077.5M1460.2 2065V2077.5M1496.9 2065V2077.5M1533.6 2065V2086.5M1570.3 2065V2077.5M1607 2065V2077.5M1643.7 2065V2077.5M1680.4 2065V2077.5M1717.1 2065V2077.5" stroke="#000" stroke-width="6.6" stroke-linecap="round" fill="none"/>
<text x="0" y="0" transform="translate(432.4 2184.1) scale(0.965 1)" text-anchor="middle" font-size="72.5">3000</text>
<text x="0" y="0" transform="translate(799.5 2184.1) scale(0.965 1)" text-anchor="middle" font-size="72.5">2900</text>
<text x="0" y="0" transform="translate(1166.5 2184.1) scale(0.965 1)" text-anchor="middle" font-size="72.5">2800</text>
<text x="0" y="0" transform="translate(1533.6 2184.1) scale(0.965 1)" text-anchor="middle" font-size="72.5">2700</text>
<text transform="translate(96.7 1517.4) rotate(-90)" font-size="89">Normalized Absorbance</text>
<text x="529.7" y="2328" font-size="89">Wavenumbers (cm</text>
<text x="1267.1" y="2285" font-size="58">−1</text>
<text x="1338.7" y="2328" font-size="89">)</text>
<text x="210.6" y="386" font-size="79" font-weight="bold">(f)</text>
<text x="202.1" y="690.3" font-size="79" font-weight="bold">(e)</text>
<text x="189.8" y="998.4" font-size="79" font-weight="bold">(d)</text>
<text x="190.6" y="1311.5" font-size="79" font-weight="bold">(c)</text>
<text x="186.4" y="1620.7" font-size="79" font-weight="bold">(b)</text>
<text x="182.3" y="1943" font-size="79" font-weight="bold">(a)</text>
</svg>
</body></html>
